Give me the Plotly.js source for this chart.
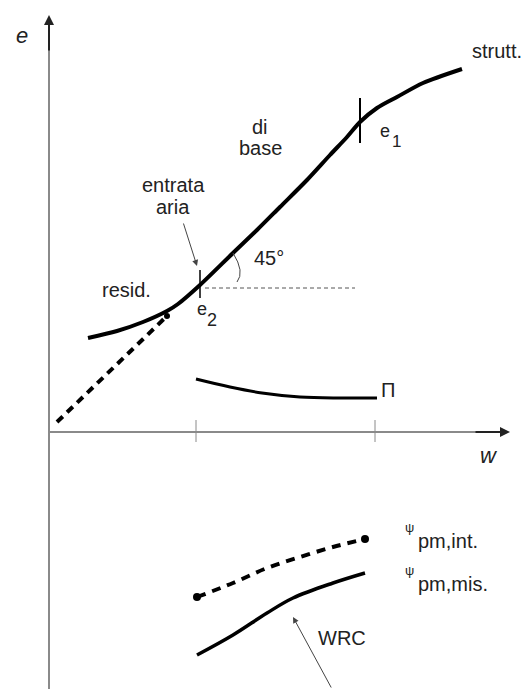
<!DOCTYPE html>
<html><head><meta charset="utf-8">
<script src="https://cdn.plot.ly/plotly-3.0.1.min.js"></script>
<style>html,body{margin:0;padding:0;background:#fff}#c{width:524px;height:689px}</style>
</head><body><div id="c"></div>
<script>
// Schematic curve data (w, e units)
const mainW = [3.9, 6.8, 9.4, 11.8, 12.9, 15.1, 18.4, 20.8, 23.1, 25.8, 28.1, 29.8, 31.1, 32.8, 34.8, 37.4, 41.3];
const mainE = [9.4, 10.1, 11.0, 12.1, 12.8, 14.7, 17.9, 20.2, 22.5, 25.2, 27.7, 29.5, 31.0, 32.4, 33.5, 34.9, 36.3];
const residW = [0.8, 11.8];
const residE = [1.0, 11.6];
const piW = [14.7, 18.1, 21.3, 25.1, 29.1, 32.8];
const piE = [5.3, 4.5, 3.9, 3.5, 3.4, 3.4];
const psiIntW = [14.8, 18.4, 21.8, 25.1, 28.4, 31.6];
const psiIntE = [-16.5, -15.1, -13.6, -12.5, -11.5, -10.7];
const psiMisW = [14.8, 18.4, 21.8, 24.4, 28.4, 31.6];
const psiMisE = [-22.3, -20.3, -18.1, -16.6, -15.1, -14.1];
const wTicks = [14.7, 32.6];
const e1W = 31.1, e2W = 15.1, e2E = 14.4;

const F = 'Liberation Sans, Arial, sans-serif';
const txt = (s) => ({family: F, size: s, color: '#222'});

const traces = [
  {x: mainW, y: mainE, mode: 'lines', line: {color: '#000', width: 4, shape: 'spline', smoothing: 0.8}},
  {x: residW, y: residE, mode: 'lines', line: {color: '#000', width: 4, dash: '8px,6px'}},
  {x: [residW[1]], y: [residE[1]], mode: 'markers', marker: {color: '#000', size: 6}},
  {x: piW, y: piE, mode: 'lines', line: {color: '#000', width: 3, shape: 'spline'}},
  {x: psiIntW, y: psiIntE, mode: 'lines', line: {color: '#000', width: 4, dash: '9px,7px', shape: 'spline'}},
  {x: [psiIntW[0], psiIntW[psiIntW.length-1]], y: [psiIntE[0], psiIntE[psiIntE.length-1]], mode: 'markers', marker: {color: '#000', size: 8}},
  {x: psiMisW, y: psiMisE, mode: 'lines', line: {color: '#000', width: 3.5, shape: 'spline'}}
];

const shapes = [
  {type: 'line', x0: 0, y0: -25.7, x1: 0, y1: 41.0, line: {color: '#8a8a8a', width: 2}},
  {type: 'line', x0: 0, y0: 0, x1: 45.4, y1: 0, line: {color: '#8a8a8a', width: 2}},
  ...wTicks.map(t => ({type: 'line', x0: t, y0: 1.2, x1: t, y1: -1.0, line: {color: '#8a8a8a', width: 1}})),
  {type: 'line', x0: e1W, y0: 33.4, x1: e1W, y1: 28.9, line: {color: '#000', width: 2}},
  {type: 'line', x0: e2W, y0: 16.2, x1: e2W, y1: 13.4, line: {color: '#000', width: 1.5}},
  {type: 'line', x0: 15.6, y0: e2E, x1: 30.6, y1: e2E, line: {color: '#555', width: 1, dash: '4px,3px'}},
  {type: 'path', path: 'M 18.4,17.9 Q 19.6,16.0 18.8,15.0', line: {color: '#444', width: 1}}
];

const arrow = (x, y, ax, ay, w, c, s) => ({x, y, ax, ay, axref: 'x', ayref: 'y', xref: 'x', yref: 'y', text: '', showarrow: true, arrowhead: 2, arrowsize: s, arrowwidth: w, arrowcolor: c});
const lab = (x, y, t, size, extra) => Object.assign({x, y, text: t, showarrow: false, font: txt(size)}, extra || {});

const annotations = [
  arrow(0, 41.7, 0, 38.0, 2, '#222', 1),
  arrow(46.1, 0, 42.5, 0, 2, '#222', 1),
  arrow(14.8, 16.6, 13.4, 21.0, 1, '#444', 1.2),
  arrow(24.4, -18.5, 28.3, -25.7, 1, '#444', 1.2),
  lab(-2.7, 39.7, '<i>e</i>', 22),
  lab(44.0, -2.3, '<i>w</i>', 22),
  lab(44.8, 38.1, 'strutt.', 20),
  lab(21.1, 30.5, 'di', 20),
  lab(21.1, 28.4, 'base', 20),
  lab(33.6, 30.1, 'e', 18),
  lab(34.7, 29.1, '1', 17),
  lab(12.4, 24.7, 'entrata', 20),
  lab(12.4, 22.5, 'aria', 20),
  lab(22.0, 17.4, '45°', 20),
  lab(7.7, 14.2, 'resid.', 20),
  lab(15.3, 12.3, 'e', 18),
  lab(16.3, 11.2, '2', 18),
  lab(33.9, 4.2, 'Π', 20),
  lab(36.0, -9.5, 'ψ', 13),
  lab(36.7, -10.9, 'pm,int.', 20, {xanchor: 'left'}),
  lab(36.0, -13.8, 'ψ', 13),
  lab(36.7, -15.2, 'pm,mis.', 20, {xanchor: 'left'}),
  lab(29.3, -20.6, 'WRC', 20)
];

const layout = {
  width: 524, height: 689, autosize: false,
  margin: {l: 0, r: 0, t: 0, b: 0},
  paper_bgcolor: '#fff', plot_bgcolor: '#fff',
  showlegend: false,
  xaxis: {range: [-4.9, 47.5], visible: false, fixedrange: true},
  yaxis: {range: [-25.7, 43.2], visible: false, fixedrange: true},
  shapes: shapes, annotations: annotations
};

Plotly.newPlot('c', traces, layout, {displayModeBar: false, staticPlot: true});
</script>
</body></html>
